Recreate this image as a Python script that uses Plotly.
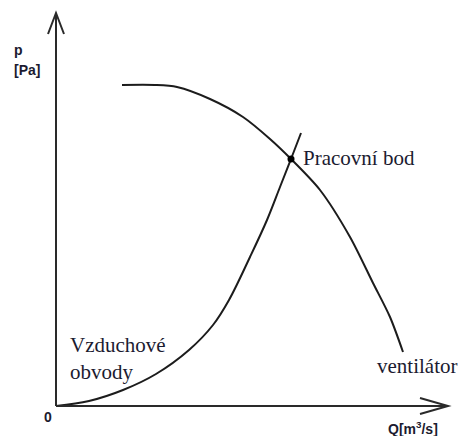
import plotly.graph_objects as go

# Fan characteristic (ventilátor) (arbitrary units)
fan_q = [66, 99, 121, 154, 187, 214, 235, 264, 294, 317, 334, 347]
fan_p = [321, 321, 319, 307, 289, 267, 247, 216, 169, 123, 89, 54]

# System characteristic (vzduchové obvody)
sys_q = [0, 33, 67, 100, 133, 157, 173, 194, 211, 224, 235, 245]
sys_p = [0, 5, 16, 32, 56, 81, 106, 149, 186, 219, 247, 273]

# Working point (pracovní bod)
work_q = [235]
work_p = [247]

line_col = "#1c1c1c"
text_col = "#1b1b30"

fig = go.Figure()
fig.add_trace(go.Scatter(x=fan_q, y=fan_p, mode="lines",
                         line=dict(color=line_col, width=2, shape="spline", smoothing=0.8),
                         hoverinfo="skip"))
fig.add_trace(go.Scatter(x=sys_q, y=sys_p, mode="lines",
                         line=dict(color=line_col, width=2, shape="spline", smoothing=1.0),
                         hoverinfo="skip"))
fig.add_trace(go.Scatter(x=work_q, y=work_p, mode="markers",
                         marker=dict(color="black", size=7), hoverinfo="skip"))

ax_col = "#2a2a2a"
shapes = [
    dict(type="line", xref="x", yref="y", x0=0, y0=0, x1=0, y1=393,
         line=dict(color=ax_col, width=2)),
    dict(type="line", xref="x", yref="y", x0=0, y0=0, x1=392, y1=0,
         line=dict(color=ax_col, width=2)),
    dict(type="path", xref="x", yref="y", path="M -8,372 L 0,393 L 8,372",
         line=dict(color=ax_col, width=2)),
    dict(type="path", xref="x", yref="y", path="M 364,8 L 392,0 L 364,-8",
         line=dict(color=ax_col, width=2)),
]

sans_b = dict(family="Liberation Sans", size=14, color=text_col)
serif = dict(family="'Liberation Serif', 'DejaVu Serif', serif", size=21, color=text_col)

annotations = [
    dict(x=-44, y=356, text="<b>p</b>", font=sans_b, xanchor="left", yanchor="middle"),
    dict(x=-44, y=336, text="<b>[Pa]</b>", font=sans_b, xanchor="left", yanchor="middle"),
    dict(x=-8, y=-11, text="<b>0</b>", font=sans_b, xanchor="center", yanchor="middle"),
    dict(x=330, y=-22, text="<b>Q[m<sup>3</sup>/s]</b>", font=sans_b, xanchor="left", yanchor="middle"),
    dict(x=245, y=248, text="Pracovní bod", font=serif, xanchor="left", yanchor="middle"),
    dict(x=12, y=61, text="Vzduchové", font=serif, xanchor="left", yanchor="middle"),
    dict(x=12, y=34, text="obvody", font=serif, xanchor="left", yanchor="middle"),
    dict(x=319, y=40, text="ventilátor", font=serif, xanchor="left", yanchor="middle"),
]
for a in annotations:
    a.update(xref="x", yref="y", showarrow=False)

fig.update_layout(
    width=462, height=436, autosize=False,
    margin=dict(l=0, r=0, t=0, b=0),
    paper_bgcolor="white", plot_bgcolor="white",
    showlegend=False,
    xaxis=dict(range=[-56, 406], visible=False, fixedrange=True),
    yaxis=dict(range=[-30, 406], visible=False, fixedrange=True),
    shapes=shapes, annotations=annotations,
)

fig.write_html("out.html",
               config={"displayModeBar": False},
               post_script="document.body.style.margin='0';document.body.style.overflow='hidden';")
